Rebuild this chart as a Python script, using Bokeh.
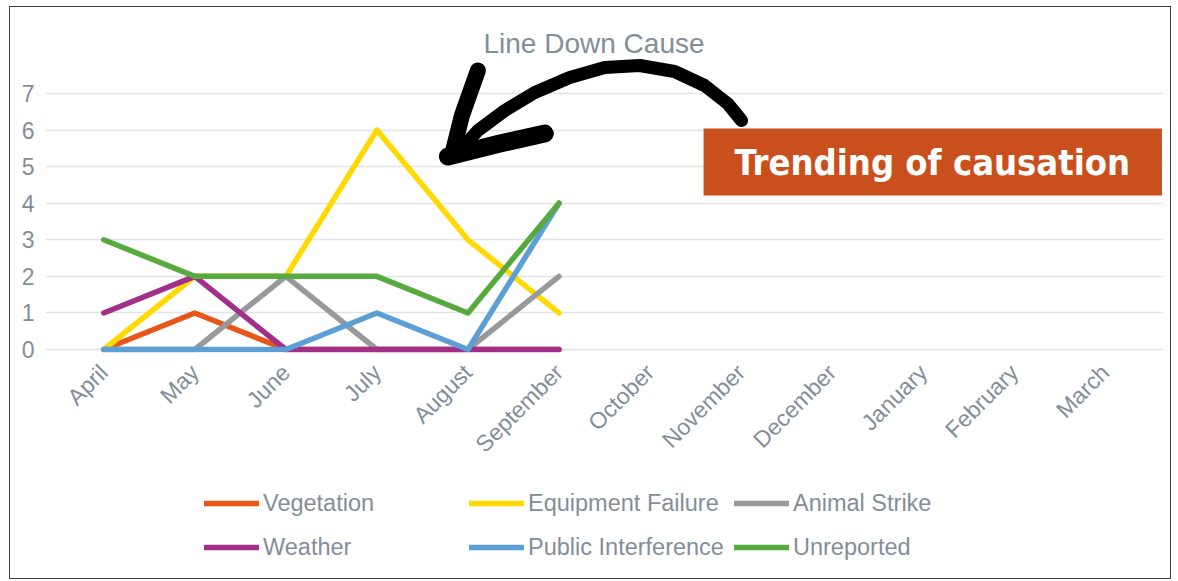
from bokeh.plotting import figure
from bokeh.layouts import column
from bokeh.models import (FactorRange, Range1d, FixedTicker, Legend, LegendItem, Label)
from bokeh.embed import file_html
from bokeh.resources import INLINE

months = ["April", "May", "June", "July", "August", "September",
          "October", "November", "December", "January", "February", "March"]
vegetation = [0, 1, 0, 0, 0, 0]
equipment_failure = [0, 2, 2, 6, 3, 1]
animal_strike = [0, 0, 2, 0, 0, 2]
weather = [1, 2, 0, 0, 0, 0]
public_interference = [0, 0, 0, 1, 0, 4]
unreported = [3, 2, 2, 2, 1, 4]
y_ticks = [0, 1, 2, 3, 4, 5, 6, 7]

series = [
    ("Vegetation", vegetation, "#E8561A"),
    ("Equipment Failure", equipment_failure, "#FFD900"),
    ("Animal Strike", animal_strike, "#97999C"),
    ("Weather", weather, "#A2308A"),
    ("Public Interference", public_interference, "#5B9FD5"),
    ("Unreported", unreported, "#57AB3E"),
]

TXT = "#838E99"
FONT = "'Liberation Sans', Arial, sans-serif"

p = figure(width=1160, height=474, output_backend="svg", toolbar_location=None,
           x_range=FactorRange(factors=months, range_padding=0.14, range_padding_units="absolute"),
           y_range=Range1d(-0.082, 7.957),
           min_border_left=35, min_border_right=7, min_border_top=51, min_border_bottom=129)
p.outline_line_color = None
p.background_fill_color = "white"
p.border_fill_color = "white"

p.title.text = "Line Down Cause"
p.title.align = "left"
p.title.offset = 438
p.title.text_font_size = "28px"
p.title.text_font_style = "normal"
p.title.text_color = TXT
p.title.text_font = FONT
p.title.standoff = 0

p.xgrid.grid_line_color = None
p.ygrid.grid_line_color = "#E1E4E6"
p.ygrid.grid_line_width = 1.5
p.ygrid.bounds = (0, 12)

p.yaxis.ticker = FixedTicker(ticks=y_ticks)
for ax in (p.xaxis[0], p.yaxis[0]):
    ax.axis_line_color = None
    ax.major_tick_line_color = None
    ax.minor_tick_line_color = None
    ax.major_label_text_color = TXT
    ax.major_label_text_font = FONT
    ax.major_label_text_font_size = "23px"
p.yaxis.major_label_standoff = 5
p.xaxis.major_label_orientation = 0.785398
p.xaxis.major_label_standoff = 10

for name, vals, col in series:
    p.line(x=months[:len(vals)], y=vals, line_color=col, line_width=5.5,
           line_join="round", line_cap="round")

# --- annotation: hand-drawn arrow and callout box (page-pixel sketch) ---
def dx(px):
    return (px - 45) / 91.17 - 0.14

def dy(py):
    return (349 - py) / 36.571

curve = [(742, 120), (728, 103), (705, 85), (675, 71), (640, 65), (605, 67),
         (570, 77), (535, 92), (505, 110), (478, 130), (458, 152)]
up_stroke = [(452, 155), (462, 115), (478, 70)]
right_stroke = [(448, 156), (500, 143), (545, 133)]
for pts, w in ((curve, 13), (up_stroke, 16), (right_stroke, 18)):
    p.line(x=[dx(a) for a, b in pts], y=[dy(b) for a, b in pts], line_color="black",
           line_width=w, line_cap="round", line_join="round")

p.quad(left=dx(704), right=dx(1163), top=dy(128), bottom=dy(195),
       fill_color="#C9501C", line_color=None)
p.add_layout(Label(x=dx(933), y=dy(162), text="Trending of causation",
                   text_align="center", text_baseline="middle", text_color="white",
                   text_font="'Liberation Sans Narrow', 'DejaVu Sans Condensed', Roboto, sans-serif",
                   text_font_style="bold", text_font_size="36px"))

# --- legend strip below the chart ---
lp = figure(width=1160, height=97, output_backend="svg", toolbar_location=None,
            x_range=Range1d(0, 1), y_range=Range1d(0, 1),
            x_axis_type=None, y_axis_type=None,
            min_border_left=0, min_border_right=0, min_border_top=0, min_border_bottom=0)
lp.outline_line_color = None
lp.grid.grid_line_color = None
items = []
for name, vals, col in series:
    # off-range proxy renderer, only used to draw the legend swatch
    r = lp.line(x=[5, 6], y=[5, 6], line_color=col, line_width=5.5, line_cap="round")
    items.append(LegendItem(label=name, renderers=[r]))
legend = Legend(items=items, orientation="horizontal", ncols=3,
                label_text_font=FONT, label_text_font_size="23.5px", label_text_color=TXT,
                glyph_width=55, glyph_height=20, label_standoff=4, spacing=10,
                label_width=196, label_height=34,
                border_line_color=None, background_fill_alpha=0,
                location=(159, 14), margin=0, padding=0)
lp.add_layout(legend, "center")

layout = column(p, lp, spacing=0)
layout.styles = {"border": "1px solid #3f3f3f", "margin-left": "9px", "margin-top": "6px"}

open("out.html", "w").write(file_html(layout, INLINE))
